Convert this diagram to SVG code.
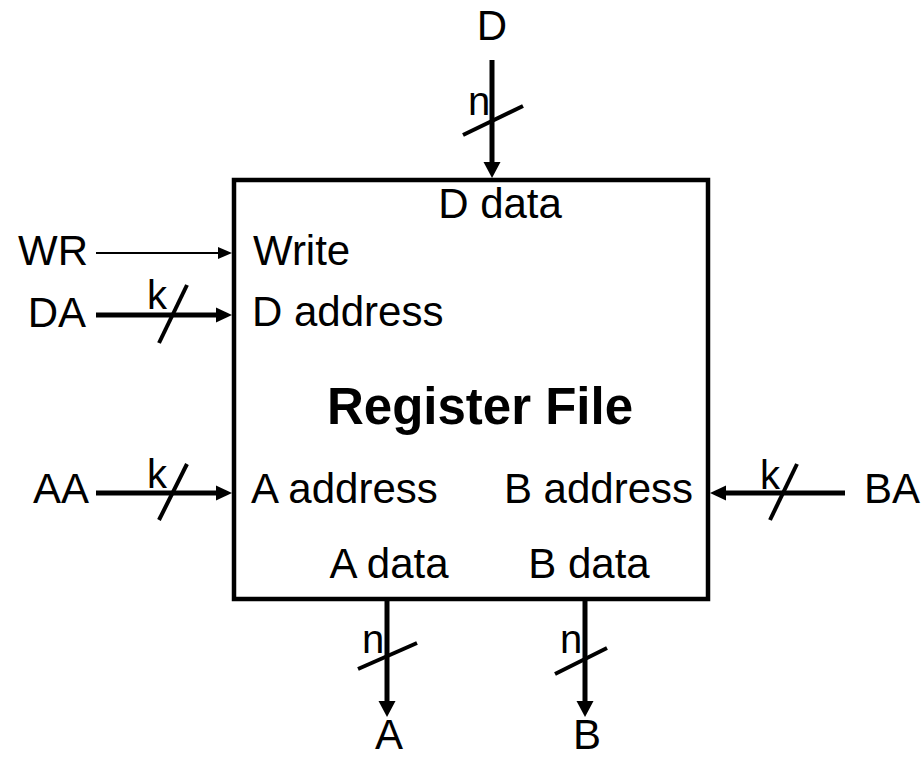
<svg xmlns="http://www.w3.org/2000/svg" width="924" height="759" viewBox="0 0 924 759">
  <style>
    text { font-family: "Liberation Sans", Arial, sans-serif; font-size: 42px; fill: #000; }
    .bold { font-weight: bold; font-size: 51px; }
    .small { font-size: 40px; }
    .bus { stroke: #000; stroke-width: 5; fill: none; }
    .thin { stroke: #000; stroke-width: 2; fill: none; }
    .slash { stroke: #000; stroke-width: 4; fill: none; }
    .head { fill: #000; stroke: none; }
  </style>
  <rect width="924" height="759" fill="#fff"/>
  <g id="regfile">
    <rect x="234" y="180" width="474" height="419" fill="#fff" stroke="#000" stroke-width="4.5"/>
    <text x="500" y="218" text-anchor="middle">D data</text>
    <text x="253" y="265">Write</text>
    <text x="252" y="326">D address</text>
    <text class="bold" x="480" y="424" text-anchor="middle">Register File</text>
    <text x="251" y="503">A address</text>
    <text x="693" y="503" text-anchor="end">B address</text>
    <text x="389" y="578" text-anchor="middle">A data</text>
    <text x="589" y="578" text-anchor="middle">B data</text>
  </g>
  <g id="in-D"><text x="492" y="40" text-anchor="middle">D</text></g>
  <g id="in-WR"><text x="88" y="265" text-anchor="end">WR</text></g>
  <g id="in-DA"><text x="86" y="327" text-anchor="end">DA</text></g>
  <g id="in-AA"><text x="89" y="503" text-anchor="end">AA</text></g>
  <g id="in-BA"><text x="864" y="503">BA</text></g>
  <g id="out-A"><text x="389" y="749" text-anchor="middle">A</text></g>
  <g id="out-B"><text x="587" y="749" text-anchor="middle">B</text></g>
  <g id="connectors">
    <!-- D -->
    <line class="bus" x1="492" y1="60" x2="492" y2="164"/>
    <polygon class="head" points="492,178 483.5,162 500.5,162"/>
    <line class="slash" x1="463" y1="135" x2="523" y2="106"/>
    <text class="small" x="468" y="115">n</text>
    <!-- WR -->
    <line class="thin" x1="96" y1="253" x2="220" y2="253"/>
    <polygon class="head" points="232,253 218,247 218,259"/>
    <!-- DA -->
    <line class="bus" x1="96" y1="315" x2="218" y2="315"/>
    <polygon class="head" points="232,315 216,307.5 216,322.5"/>
    <line class="slash" x1="159" y1="343" x2="187" y2="285"/>
    <text class="small" x="147" y="309">k</text>
    <!-- AA -->
    <line class="bus" x1="96" y1="493" x2="218" y2="493"/>
    <polygon class="head" points="232,493 216,485.5 216,500.5"/>
    <line class="slash" x1="159" y1="520" x2="187" y2="464"/>
    <text class="small" x="147" y="488">k</text>
    <!-- BA -->
    <line class="bus" x1="845" y1="493" x2="724" y2="493"/>
    <polygon class="head" points="710,493 726,485.5 726,500.5"/>
    <line class="slash" x1="770" y1="520" x2="797" y2="464"/>
    <text class="small" x="760" y="489">k</text>
    <!-- A -->
    <line class="bus" x1="387" y1="600" x2="387" y2="703"/>
    <polygon class="head" points="387,717 378.5,701 395.5,701"/>
    <line class="slash" x1="358" y1="669" x2="417" y2="643"/>
    <text class="small" x="362" y="653">n</text>
    <!-- B -->
    <line class="bus" x1="585" y1="600" x2="585" y2="703"/>
    <polygon class="head" points="585,717 576.5,701 593.5,701"/>
    <line class="slash" x1="555" y1="674" x2="607" y2="648"/>
    <text class="small" x="560" y="653">n</text>
  </g>
</svg>
